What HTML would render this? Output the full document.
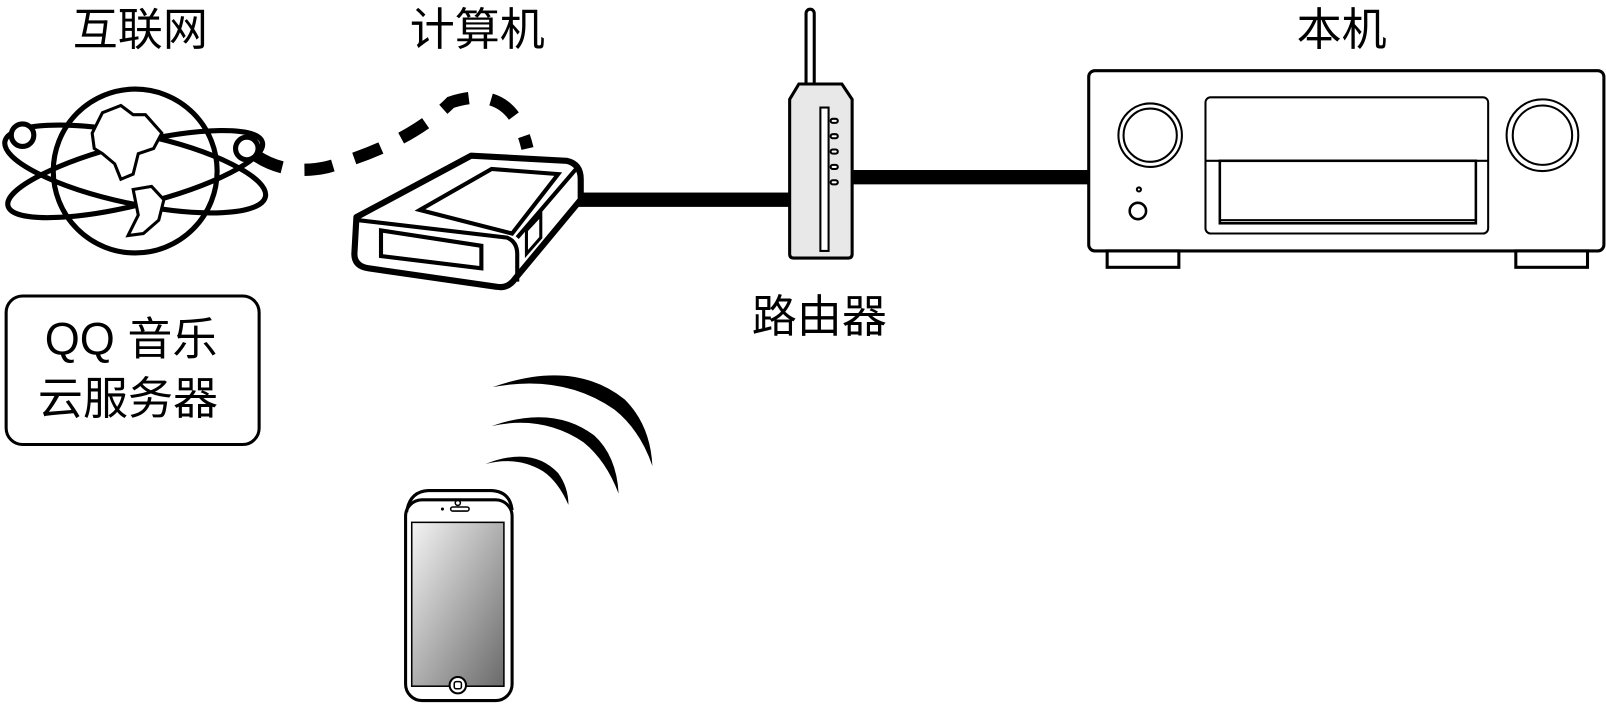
<!DOCTYPE html>
<html><head><meta charset="utf-8"><style>
html,body{margin:0;padding:0;background:#fff;}
svg{display:block;}
text{font-family:"Liberation Sans","Noto Sans CJK SC",sans-serif;fill:#000;}
</style></head><body>
<svg width="1606" height="704" viewBox="0 0 1606 704" xmlns="http://www.w3.org/2000/svg">
<defs>
<linearGradient id="g" x1="0" y1="0" x2="1" y2="1">
<stop offset="0" stop-color="#f4f4f4"/><stop offset="1" stop-color="#6a6a6a"/>
</linearGradient>
</defs>
<g transform="scale(1.0242)">
<g font-size="44" text-anchor="middle">
<text x="137" y="44">互联网</text>
<text x="466" y="44">计算机</text>
<text x="1310" y="44">本机</text>
<text x="800" y="324">路由器</text>
<text x="128" y="346">QQ 音乐</text>
<text x="125" y="404">云服务器</text>
</g>
<rect x="6" y="289" width="247" height="145" rx="16" fill="none" stroke="#000" stroke-width="3"/>

<g fill="none" stroke="#000" stroke-width="5">
<circle cx="132" cy="167" r="80"/>
<ellipse cx="132" cy="165" rx="130" ry="34" transform="rotate(12 132 165)"/>
<ellipse cx="132" cy="170" rx="128" ry="30" transform="rotate(-14 132 170)"/>
</g>
<circle cx="22" cy="132" r="11" fill="#fff" stroke="#000" stroke-width="5"/>
<circle cx="241" cy="145" r="11" fill="#fff" stroke="#000" stroke-width="5"/>
<path d="M90 130 L100 110 L118 103 L130 112 L142 112 L158 130 L150 145 L135 150 L130 170 L118 175 L112 160 L100 150 L92 145 Z" fill="#fff" stroke="#000" stroke-width="3"/>
<path d="M130 185 L148 182 L160 195 L155 215 L140 228 L125 230 L135 210 Z" fill="#fff" stroke="#000" stroke-width="3"/>

<path d="M250 152 Q280 172 320 163 Q400 140 440 100 Q500 80 515 145" fill="none" stroke="#000" stroke-width="12" stroke-dasharray="28 22"/>

<rect x="560" y="188" width="215" height="14" fill="#000"/>
<rect x="830" y="166" width="235" height="14" fill="#000"/>

<path d="M348 212 L460 152 L553 157 Q567 160 567 175 L567 195 L503 272 Q496 282 485 280 L360 262 Q346 260 346 248 Z" fill="#fff" stroke="#000" stroke-width="6" stroke-linejoin="round"/>
<path d="M350 215 L495 232 Q505 236 505 248 L505 275" fill="none" stroke="#000" stroke-width="4"/>
<path d="M505 232 L565 162" fill="none" stroke="#000" stroke-width="4"/>
<path d="M410 205 L480 165 L545 170 L500 228 Z" fill="none" stroke="#000" stroke-width="4"/>
<path d="M372 225 L470 240 L470 262 L372 250 Z" fill="none" stroke="#000" stroke-width="4"/>
<path d="M514 225 L528 210 L528 232 L514 248 Z" fill="none" stroke="#000" stroke-width="3"/>

<rect x="787" y="9" width="8" height="80" rx="4" fill="#fff" stroke="#000" stroke-width="3"/>
<path d="M771 97 L780 82 L822 82 L832 97 L832 248 Q832 252 828 252 L775 252 Q771 252 771 248 Z" fill="#e8e8e8" stroke="#000" stroke-width="3"/>
<rect x="801" y="105" width="8" height="140" fill="#fff" stroke="#000" stroke-width="2"/>
<g fill="#fff" stroke="#000" stroke-width="2">
<rect x="811" y="116" width="7" height="4" rx="2"/><rect x="811" y="131" width="7" height="4" rx="2"/><rect x="811" y="146" width="7" height="4" rx="2"/><rect x="811" y="161" width="7" height="4" rx="2"/><rect x="811" y="176" width="7" height="4" rx="2"/>
</g>

<rect x="1063" y="69" width="503" height="176" rx="6" fill="#fff" stroke="#000" stroke-width="3"/>
<rect x="1081" y="245" width="70" height="16" fill="#fff" stroke="#000" stroke-width="3"/>
<rect x="1480" y="245" width="70" height="16" fill="#fff" stroke="#000" stroke-width="3"/>
<g fill="none" stroke="#000" stroke-width="2">
<circle cx="1123" cy="132" r="31"/><circle cx="1123" cy="132" r="26"/>
<circle cx="1506" cy="132" r="35"/><circle cx="1506" cy="132" r="29"/>
<rect x="1177" y="95" width="276" height="133" rx="5"/>
<line x1="1177" y1="157" x2="1453" y2="157"/>
<circle cx="1112" cy="185" r="2"/>
<circle cx="1111" cy="206" r="8" stroke-width="2.5"/>
</g>
<rect x="1191" y="157" width="250" height="61" fill="none" stroke="#000" stroke-width="2.5"/>
<line x1="1191" y1="215" x2="1441" y2="215" stroke="#000" stroke-width="2"/>

<path d="M481 378 Q560 350 610 390 Q635 415 637 455 Q625 420 600 400 Q550 365 481 378 Z" fill="#000"/>
<path d="M480 416 Q540 395 580 425 Q602 445 604 482 Q592 450 570 432 Q530 405 480 416 Z" fill="#000"/>
<path d="M474 453 Q520 435 545 462 Q555 476 555 493 Q545 470 530 460 Q505 445 474 453 Z" fill="#000"/>

<rect x="396" y="488" width="104" height="196" rx="16" fill="#fff" stroke="#000" stroke-width="3"/>
<path d="M397 500 Q400 480 418 479 L480 479 Q498 480 500 498" fill="none" stroke="#000" stroke-width="3"/>
<rect x="402" y="510" width="90" height="160" fill="url(#g)" stroke="#000" stroke-width="1.5"/>
<circle cx="447" cy="491" r="2.5" fill="none" stroke="#000" stroke-width="1.5"/>
<circle cx="432" cy="497" r="1.5" fill="#000"/>
<rect x="440" y="495" width="18" height="4" rx="2" fill="none" stroke="#000" stroke-width="1.5"/>
<circle cx="447" cy="669" r="8" fill="#fff" stroke="#000" stroke-width="2"/>
<rect x="443.5" y="665.5" width="7" height="7" rx="2" fill="none" stroke="#000" stroke-width="1.5"/>
</g>
</svg>
</body></html>
